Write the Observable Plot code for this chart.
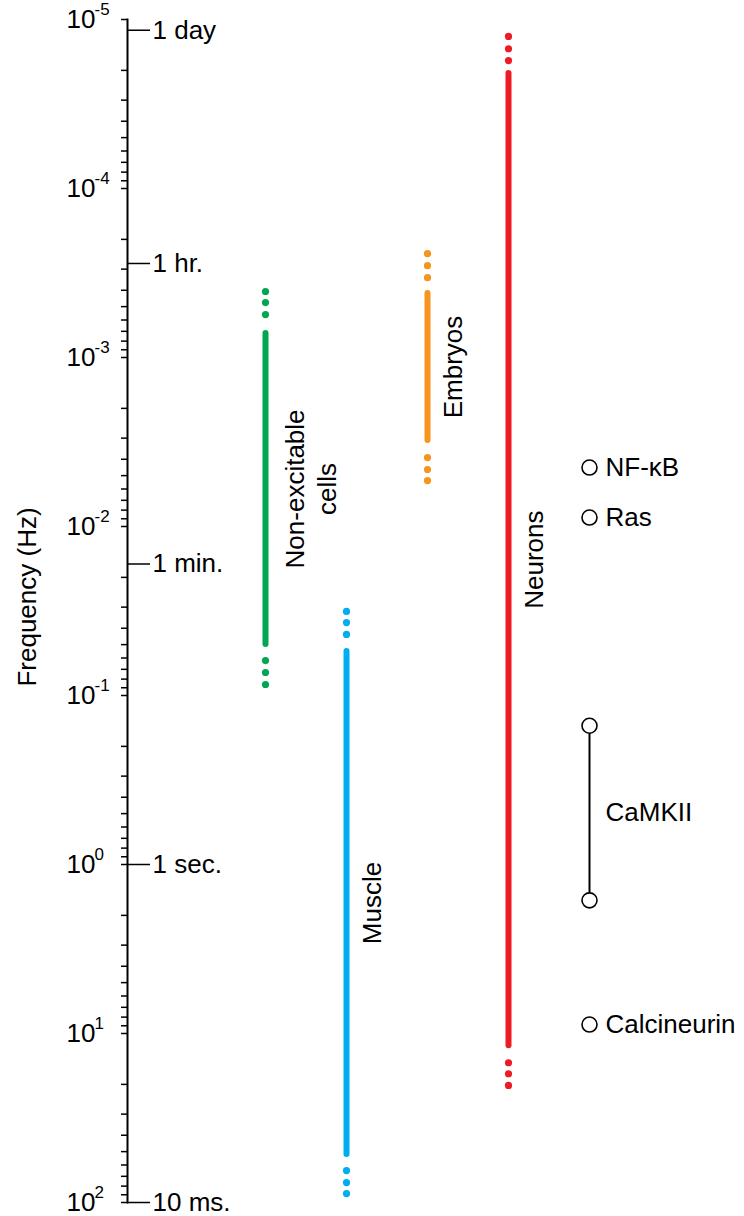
<!DOCTYPE html>
<html><head><meta charset="utf-8">
<script src="https://cdn.jsdelivr.net/npm/d3@7"></script>
<script src="https://cdn.jsdelivr.net/npm/@observablehq/plot@0.6"></script>
<style>
body{margin:0;background:#fff;}
#chart svg{display:block;}
</style></head><body><div id="chart"></div>
<script>
// ---- data ----
const cellTypes = ["Non-excitable cells", "Muscle", "Embryos", "Neurons"];
const cellLabels = ["Non-excitable\ncells", "Muscle", "Embryos", "Neurons"];
const cellColors = ["#00a651", "#00aeef", "#f7941d", "#ed1c24"];
const rangeLowHz = [7.2e-4, 0.055, 4.18e-4, 2.09e-5];
const rangeHighHz = [0.0499, 52, 3.10e-3, 11.8];
const dotsAboveHz = [[4.07e-4, 4.73e-4, 5.57e-4], [0.0318, 0.0370, 0.0435], [2.43e-4, 2.86e-4, 3.37e-4], [1.26e-5, 1.49e-5, 1.75e-5]];
const dotsBelowHz = [[0.0621, 0.0731, 0.0861], [64.7, 76.2, 88.5], [3.91e-3, 4.60e-3, 5.35e-3], [14.9, 17.3, 20.3]];

const signalingColumn = "Signaling";
const proteins = ["NF-κB", "Ras", "CaMKII", "Calcineurin"];
const proteinLowHz = [4.48e-3, 8.85e-3, 0.151, 8.85];
const proteinHighHz = [4.48e-3, 8.85e-3, 1.63, 8.85];

const decadeExponents = [-5, -4, -3, -2, -1, 0, 1, 2];
const timeLabels = ["1 day", "1 hr.", "1 min.", "1 sec.", "10 ms."];
const timeHz = [1 / 86400, 1 / 3600, 1 / 60, 1, 100];
const axisTitle = "Frequency (Hz)";

// ---- tables built from the arrays ----
const cells = cellTypes.map((name, i) => ({name, label: cellLabels[i], lo: rangeLowHz[i], hi: rangeHighHz[i]}));
const cellDots = cellTypes.flatMap((name, i) => [...dotsAboveHz[i], ...dotsBelowHz[i]].map(hz => ({name, hz})));
const proteinRows = proteins.map((name, i) => ({name, lo: proteinLowHz[i], hi: proteinHighHz[i]}));
const proteinEnds = proteinRows.flatMap(d => d.lo === d.hi ? [d.lo] : [d.lo, d.hi]);
const minorTicks = d3.scaleLog().domain([1e-5, 100]).ticks();
const decades = decadeExponents.map(e => ({e, hz: Math.pow(10, e)}));
const timeRows = timeLabels.map((t, i) => ({t, hz: timeHz[i]}));

const font = "'Liberation Sans', Arial, Helvetica, sans-serif";
const fs = 26;

const chart = Plot.plot({
  width: 744,
  height: 1216,
  marginTop: 19,
  marginBottom: 14,
  marginLeft: 127,
  marginRight: 0,
  style: {fontFamily: font, background: "white", color: "black"},
  x: {type: "point", domain: [...cellTypes, signalingColumn], range: [264, 590], padding: 0, axis: null},
  y: {type: "log", domain: [1e-5, 100], reverse: true, label: null},
  color: {domain: cellTypes, range: cellColors},
  marks: [
    Plot.frame({anchor: "left", stroke: "black", strokeWidth: 2}),
    Plot.axisY(minorTicks, {anchor: "left", tickSize: 6, tickFormat: () => "", label: null, strokeWidth: 1.5}),
    Plot.axisY(timeHz, {anchor: "left", tickSize: 23, dx: 23, tickFormat: () => "", label: null, strokeWidth: 1.5}),
    Plot.text(decades, {y: "hz", text: () => "10", frameAnchor: "left", textAnchor: "start", dx: -61, fontSize: fs}),
    Plot.text(decades, {y: "hz", text: d => String(d.e), frameAnchor: "left", textAnchor: "start", dx: -33, dy: -10, fontSize: 17}),
    Plot.text(timeRows, {y: "hz", text: "t", frameAnchor: "left", textAnchor: "start", dx: 25, fontSize: fs}),
    Plot.text([axisTitle], {frameAnchor: "left", textAnchor: "middle", rotate: -90, dx: -100, dy: -14, fontSize: fs}),
    Plot.ruleX(cells, {x: "name", y1: "lo", y2: "hi", stroke: "name", strokeWidth: 6, strokeLinecap: "round"}),
    Plot.dot(cellDots, {x: "name", y: "hz", fill: "name", r: 3.6}),
    Plot.text(cells, {filter: d => d.label.includes("\n"), x: "name", y: d => Math.sqrt(d.lo * d.hi), text: "label", rotate: -90, lineHeight: 1.25, dx: 44, fontSize: fs}),
    Plot.text(cells, {filter: d => !d.label.includes("\n"), x: "name", y: d => Math.sqrt(d.lo * d.hi), text: "label", rotate: -90, dx: 26, fontSize: fs}),
    Plot.ruleX(proteinRows, {x: () => signalingColumn, y1: "lo", y2: "hi", stroke: "black", strokeWidth: 2}),
    Plot.dot(proteinEnds, {x: () => signalingColumn, y: d => d, r: 7.5, stroke: "black", fill: "white", strokeWidth: 1.6}),
    Plot.text(proteinRows, {x: () => signalingColumn, y: d => Math.sqrt(d.lo * d.hi), text: "name", textAnchor: "start", dx: 16, fontSize: fs})
  ]
});
document.getElementById("chart").appendChild(chart);
</script>
</body></html>
